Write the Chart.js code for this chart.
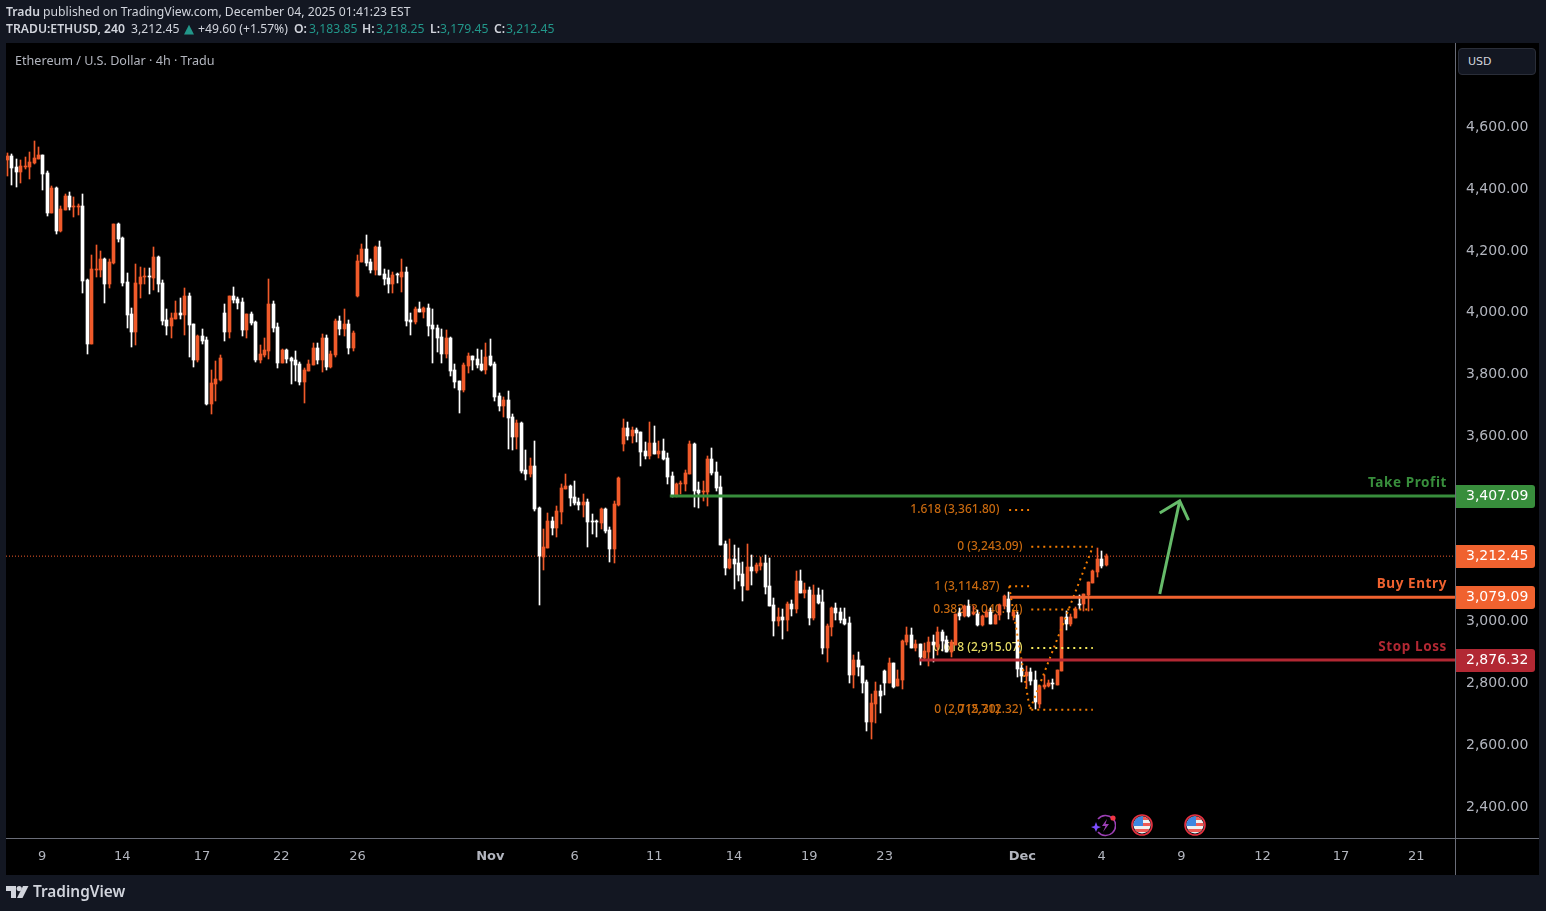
<!DOCTYPE html>
<html>
<head>
<meta charset="utf-8">
<title>ETHUSD 4h</title>
<script src="https://cdn.jsdelivr.net/npm/chart.js@4/dist/chart.umd.min.js"></script>
<style>
  html, body { margin: 0; padding: 0; width: 1546px; height: 911px; overflow: hidden; background: #131722; }
  #wrap { position: relative; width: 1546px; height: 911px; }
  canvas { position: absolute; left: 0; top: 0; }
  .txt { position: absolute; white-space: nowrap; font-family: "Noto Sans", sans-serif; font-size: 12.2px; color: #d1d4dc; line-height: 16px; }
  .txt b { font-weight: 600; }
  .teal { color: #22978a; }
  .tri { font-family: "DejaVu Sans", sans-serif; font-size: 13px; }
  #usd { position: absolute; left: 1458px; top: 48px; width: 76px; height: 25px; border: 1px solid #2a2e39; border-radius: 4px; background: #131722; }
  #usd span { position: absolute; left: 9px; top: 6px; font: 11px "DejaVu Sans", sans-serif; color: #d1d4dc; }
  svg { position: absolute; }
</style>
</head>
<body>
<div id="wrap">
  <canvas id="chart" width="1546" height="911"></canvas>
  <div class="txt" style="left:6px;top:4px"><b>Tradu</b> published on TradingView.com, December 04, 2025 01:41:23 EST</div>
  <div class="txt" style="left:6px;top:21px"><b>TRADU:ETHUSD, 240</b></div>
  <div class="txt" style="left:131px;top:21px">3,212.45</div>
  <div class="txt teal tri" style="left:184px;top:21px">▲</div>
  <div class="txt" style="left:198px;top:21px">+49.60 (+1.57%)</div>
  <div class="txt" style="left:294px;top:21px"><b>O:</b></div>
  <div class="txt teal" style="left:309px;top:21px">3,183.85</div>
  <div class="txt" style="left:362px;top:21px"><b>H:</b></div>
  <div class="txt teal" style="left:376px;top:21px">3,218.25</div>
  <div class="txt" style="left:430px;top:21px"><b>L:</b></div>
  <div class="txt teal" style="left:440px;top:21px">3,179.45</div>
  <div class="txt" style="left:494px;top:21px"><b>C:</b></div>
  <div class="txt teal" style="left:506px;top:21px">3,212.45</div>
  <div class="txt" style="left:15px;top:53px;font-size:12.6px;color:#b2b5be">Ethereum / U.S. Dollar · 4h · Tradu</div>
  <div id="usd"><span>USD</span></div>

  <!-- earnings and economic event markers -->
  <svg style="left:1090px;top:813px" width="26" height="24" viewBox="0 0 26 24">
    <path d="M8 6 A10 10 0 1 1 8 19" fill="none" stroke="#9c3fb5" stroke-width="1.6"/>
    <path d="M17 6 L12 13 H15.5 L13 19 L19 11 H15.5 Z" fill="#9c3fb5"/>
    <path d="M6 9 L7.5 13 L11 14 L7.5 15.5 L6 19 L4.5 15.5 L1 14 L4.5 13 Z" fill="#7c4dff"/>
    <circle cx="23" cy="5" r="2.6" fill="#f23645"/>
  </svg>
  <svg style="left:1130px;top:813px" width="24" height="24" viewBox="0 0 24 24">
    <defs><clipPath id="c1"><circle cx="12" cy="12" r="8.5"/></clipPath></defs>
    <circle cx="12" cy="12" r="10" fill="#131722" stroke="#e5303f" stroke-width="1.6"/>
    <g clip-path="url(#c1)"><rect x="3" y="3" width="18" height="18" fill="#f0f0f0"/><rect x="3" y="4" width="18" height="3" fill="#ee5a55"/><rect x="3" y="10" width="18" height="3" fill="#ee5a55"/><rect x="3" y="16" width="18" height="3" fill="#ee5a55"/><rect x="3" y="3" width="10" height="10" fill="#3d86e0"/></g>
  </svg>
  <svg style="left:1183px;top:813px" width="24" height="24" viewBox="0 0 24 24">
    <defs><clipPath id="c2"><circle cx="12" cy="12" r="8.5"/></clipPath></defs>
    <circle cx="12" cy="12" r="10" fill="#131722" stroke="#e5303f" stroke-width="1.6"/>
    <g clip-path="url(#c2)"><rect x="3" y="3" width="18" height="18" fill="#f0f0f0"/><rect x="3" y="4" width="18" height="3" fill="#ee5a55"/><rect x="3" y="10" width="18" height="3" fill="#ee5a55"/><rect x="3" y="16" width="18" height="3" fill="#ee5a55"/><rect x="3" y="3" width="10" height="10" fill="#3d86e0"/></g>
  </svg>

  <!-- footer logo -->
  <svg style="left:6px;top:885px" width="24" height="14" viewBox="0 0 24 14">
    <path d="M0 1 H10 V13 H5 V6 H0 Z" fill="#d1d4dc"/>
    <circle cx="13.2" cy="3.6" r="2.6" fill="#d1d4dc"/>
    <path d="M17 1 H22.5 L16.5 13 H11 Z" fill="#d1d4dc"/>
  </svg>
  <div class="txt" style="left:33px;top:882px;font-size:15.4px;line-height:20px;font-weight:600;color:#d1d4dc">TradingView</div>
</div>

<script>
// OHLC, one value per 4h candle
const opens = [4495,4508,4472,4456,4472,4472,4485,4498,4511,4453,
  4323,4404,4265,4333,4378,4343,4343,4346,4107,3899,
  4139,4139,4174,4094,4160,4288,4242,4100,3996,3938,
  4094,4116,4119,4113,4181,4097,3977,3958,3980,4000,
  3993,4055,3964,3848,3925,3912,3705,3770,3783,4000,
  3938,4055,4045,4035,3945,3996,3971,3848,3864,3877,
  4029,3954,3838,3880,3854,3848,3835,3776,3812,3831,
  3887,3848,3919,3825,3864,3974,3948,3964,3887,4055,
  4165,4207,4165,4139,4213,4126,4113,4093,4123,4116,
  4132,3977,3970,4012,4003,4016,3961,3951,3922,3867,
  3918,3815,3779,3750,3828,3860,3851,3834,3815,3860,
  3834,3731,3698,3718,3663,3598,3643,3491,3478,3504,
  3368,3210,3239,3326,3304,3355,3430,3440,3404,3388,
  3378,3388,3326,3324,3320,3365,3297,3236,3378,3575,
  3627,3601,3621,3614,3553,3537,3579,3543,3553,3530,
  3472,3407,3446,3446,3478,3575,3427,3420,3420,3527,
  3485,3436,3252,3174,3203,3190,3155,3103,3177,3164,
  3180,3190,3116,3054,3002,3015,3006,3057,3041,3132,
  3093,3103,3012,3087,3064,2915,2983,3045,3032,3009,
  2996,2828,2876,2857,2805,2676,2734,2776,2841,2802,
  2867,2792,2812,2935,2957,2915,2928,2883,2902,2935,
  2918,2967,2941,2902,2925,3028,3019,3051,3025,3025,
  2990,3015,3032,2993,3022,3051,3074,3019,3022,2851,
  2825,2838,2812,2734,2789,2792,2802,2795,2841,3015,
  2993,3012,3058,3058,3087,3125,3161,3203,3183.85];
const highs = [4518,4514,4498,4495,4504,4520,4556,4537,4511,4459,
  4411,4407,4346,4385,4391,4375,4352,4385,4110,4187,
  4220,4200,4178,4174,4288,4291,4246,4129,4016,4158,
  4149,4145,4145,4213,4184,4107,4013,4000,4039,4048,
  4081,4064,3964,3929,3948,3922,3815,3844,3864,4029,
  4055,4084,4051,4048,3996,4003,3974,3896,3919,4110,
  4039,3967,3883,3883,3857,3877,3841,3822,3848,3903,
  3903,3932,3929,3877,3980,3990,4013,3977,3941,4187,
  4223,4252,4174,4217,4232,4142,4139,4132,4129,4174,
  4148,4000,4019,4035,4019,4028,4012,3961,3948,3944,
  3922,3834,3779,3838,3870,3860,3883,3880,3902,3915,
  3841,3740,3728,3747,3673,3653,3647,3556,3530,3585,
  3372,3300,3352,3339,3375,3446,3478,3443,3456,3401,
  3414,3397,3349,3330,3368,3368,3307,3391,3469,3656,
  3647,3630,3627,3614,3582,3647,3634,3585,3592,3546,
  3485,3449,3456,3491,3585,3579,3453,3456,3537,3562,
  3517,3472,3262,3268,3249,3239,3193,3252,3216,3190,
  3210,3216,3206,3077,3045,3041,3064,3070,3164,3168,
  3125,3113,3119,3109,3103,2993,3048,3061,3045,3045,
  3015,2892,2902,2857,2812,2766,2805,2795,2844,2883,
  2867,2844,2941,2983,2980,2941,2928,2931,2951,2957,
  2983,2973,2954,2941,3025,3045,3054,3070,3051,3038,
  3022,3038,3045,3025,3057,3087,3096,3038,3032,2873,
  2857,2851,2841,2796,2828,2812,2815,2844,3015,3035,
  3025,3048,3087,3090,3129,3168,3239,3229,3218.25];
const lows = [4443,4414,4407,4420,4465,4433,4482,4498,4398,4313,
  4323,4255,4262,4333,4333,4310,4317,4064,3867,3899,
  4116,4116,4032,4081,4158,4229,4087,3951,3890,3896,
  4048,4094,4061,4074,4068,3961,3929,3919,3980,3980,
  3929,3857,3825,3841,3899,3702,3673,3715,3780,3909,
  3919,4032,4013,3925,3919,3961,3841,3838,3857,3851,
  3938,3822,3838,3838,3770,3780,3767,3708,3812,3831,
  3835,3809,3815,3822,3857,3929,3925,3867,3877,4051,
  4165,4152,4129,4123,4122,4090,4064,4064,4096,4067,
  3957,3928,3964,4003,3983,3925,3838,3873,3838,3854,
  3795,3757,3676,3744,3805,3815,3821,3812,3802,3828,
  3715,3682,3663,3559,3556,3559,3482,3459,3469,3359,
  3054,3168,3239,3281,3274,3317,3430,3375,3378,3362,
  3339,3242,3284,3275,3300,3287,3194,3190,3375,3553,
  3588,3579,3582,3504,3527,3527,3543,3530,3524,3446,
  3404,3404,3414,3423,3478,3372,3368,3391,3375,3475,
  3423,3249,3152,3171,3106,3132,3067,3103,3119,3158,
  3168,3090,3051,2954,2986,2944,2970,3019,3028,3093,
  3077,2990,3006,3057,2896,2870,2954,3006,2996,2990,
  2802,2786,2825,2769,2647,2621,2672,2705,2763,2802,
  2786,2792,2782,2925,2915,2905,2860,2876,2857,2870,
  2892,2905,2902,2886,2925,3006,3015,3015,3022,2986,
  2986,3015,2993,2993,3006,3041,3009,3006,2821,2805,
  2789,2795,2718,2721,2783,2789,2783,2795,2841,2974,
  2986,3012,3041,3035,3035,3125,3145,3174,3179.45];
const closes = [4508,4469,4456,4475,4475,4488,4501,4511,4449,4323,
  4404,4265,4336,4378,4343,4346,4346,4103,3899,4142,
  4142,4174,4094,4165,4288,4239,4097,3993,3938,4097,
  4116,4119,4116,4181,4094,3974,3958,3984,4000,3993,
  4055,3961,3848,3925,3909,3705,3773,3786,3854,3938,
  4055,4042,4032,3945,3996,3967,3848,3867,3880,4029,
  3951,3838,3880,3851,3844,3831,3776,3815,3835,3887,
  3848,3919,3825,3867,3974,3948,3964,3887,3935,4168,
  4207,4161,4139,4213,4122,4109,4093,4122,4122,4132,
  3973,3970,4012,4003,4016,3957,3948,3918,3867,3918,
  3812,3776,3750,3831,3860,3847,3831,3815,3857,3831,
  3728,3698,3718,3660,3598,3643,3488,3478,3504,3365,
  3212,3242,3326,3304,3359,3433,3440,3401,3385,3378,
  3388,3323,3323,3322,3365,3294,3236,3381,3465,3627,
  3601,3621,3611,3550,3537,3579,3543,3553,3527,3469,
  3410,3446,3449,3482,3575,3423,3417,3423,3527,3482,
  3433,3249,3174,3203,3187,3151,3116,3177,3164,3184,
  3190,3113,3051,3002,3015,3006,3057,3041,3132,3093,
  3103,3012,3087,3061,2915,2986,3045,3028,3006,2993,
  2828,2876,2854,2802,2676,2737,2776,2760,2802,2867,
  2789,2815,2938,2957,2915,2928,2886,2905,2935,2925,
  2967,2938,2902,2935,3025,3019,3051,3019,3028,2990,
  3019,3032,2993,3022,3054,3083,3032,3032,2847,2825,
  2838,2808,2741,2792,2795,2802,2799,2844,3015,2993,
  3015,3041,3054,3090,3129,3164,3203,3181,3212.45];

// axis ticks
const yTickValues = [2400, 2600, 2800, 3000, 3600, 3800, 4000, 4200, 4400, 4600];
const xTickLabels = ['9','14','17','22','26','Nov','6','11','14','19','23','Dec','4','9','12','17','21'];
const xTickCandles = [8.8,26.9,44.9,62.8,80,110,129,147,165,182,199,230.1,248,266,284.3,302,319];

// trade levels
const takeProfit = 3407.09;
const buyEntry = 3079.09;
const stopLoss = 2876.32;
const lastPrice = 3212.45;
const takeProfitStart = 150.5;
const buyEntryStart = 227.3;
const stopLossStart = 206.8;

// arrow drawn on the chart
const arrowCandles = [261.1, 265.6];
const arrowPrices = [3090, 3391];
const arrowHeadCandles = [261.1, 265.6, 267.6];
const arrowHeadPrices = [3352, 3391, 3329];

// fib levels
const fibLevels = [3361.80, 3243.09, 3114.87, 3040.14, 2915.07, 2715.30];
const fibStarts = [227.1, 232.1, 227.1, 232.1, 232.1, 232.1];
const fibEnds = [231.6, 246, 231.6, 246, 246, 246];
const fibColors = ['#f57c00', '#f57c00', '#f57c00', '#f57c00', '#f5e95b', '#f57c00'];
const fibTexts = ['1.618 (3,361.80)', '0 (3,243.09)', '1 (3,114.87)', '0.382 (3,040.14)', '0.618 (2,915.07)', '0 (2,715.30)', '0 (2,712.32)'];
const fibTextPrices = [3361.80, 3243.09, 3114.87, 3040.14, 2915.07, 2715.30, 2715.30];
const fibTextCandles = [224.9, 230.1, 224.9, 230.1, 230.1, 224.9, 230.1];
const swingCandles = [227.1, 231.8, 246];
const swingPrices = [3114.87, 2715.30, 3243.09];

const UP = '#f05a2a';
const DOWN = '#ffffff';
const xMin = 0.66, xMax = 327.75;
const candles = opens.map((_, i) => i + 1);

const candleColors = opens.map((o, i) => closes[i] >= o ? UP : DOWN);
const wickData = candles.map((c, i) => ({ x: c, y: [lows[i], highs[i]] }));
const bodyData = candles.map((c, i) => ({ x: c, y: [opens[i], closes[i]] }));

function lineSet(xs, ys, color, width, dash, order) {
  return {
    type: 'line',
    data: xs.map((x, i) => ({ x, y: ys[i] })),
    borderColor: color,
    borderWidth: width,
    borderDash: dash || [],
    pointRadius: 0,
    tension: 0,
    fill: false,
    order: order
  };
}

const datasets = [
  { type: 'bar', data: wickData, backgroundColor: candleColors, barThickness: 1, grouped: false, minBarLength: 1, order: 4 },
  { type: 'bar', data: bodyData, backgroundColor: candleColors, barThickness: 3, grouped: false, minBarLength: 1, order: 3 },
  lineSet([xMin, xMax], [lastPrice, lastPrice], UP, 1, [1, 2], 5),
  lineSet([takeProfitStart, xMax], [takeProfit, takeProfit], '#388e3c', 3, null, 1),
  lineSet([buyEntryStart, xMax], [buyEntry, buyEntry], '#f0622f', 3, null, 1),
  lineSet([stopLossStart, xMax], [stopLoss, stopLoss], '#b22833', 3, null, 1),
  lineSet(arrowCandles, arrowPrices, '#66bb6a', 3, null, 1),
  lineSet(arrowHeadCandles, arrowHeadPrices, '#66bb6a', 3, null, 1),
  lineSet(swingCandles, swingPrices, '#f57c00', 2, [2, 4], 1)
];
fibLevels.forEach((p, i) => {
  datasets.push(lineSet([fibStarts[i], fibEnds[i]], [p, p], fibColors[i], 2, [2, 4], 1));
});

// snap bars to whole pixels, otherwise the 3px candles get blurry
const snapBars = {
  id: 'snapBars',
  afterDatasetsUpdate(chart) {
    [0, 1].forEach(k => {
      chart.getDatasetMeta(k).data.forEach(el => {
        el.x = Math.floor(el.x) + 0.5;
        el.y = Math.round(el.y);
        el.base = Math.round(el.base);
      });
    });
  }
};

const panels = {
  id: 'panels',
  beforeDraw(chart) {
    const c = chart.ctx;
    c.fillStyle = '#131722';
    c.fillRect(0, 0, 1546, 911);
    c.fillStyle = '#000000';
    c.fillRect(6, 43, 1533, 832);
  },
  beforeDatasetsDraw(chart) {
    // fib labels sit under the candles
    const c = chart.ctx, xs = chart.scales.x, ys = chart.scales.y;
    c.save();
    c.font = '500 12px "Noto Sans", sans-serif';
    c.textAlign = 'right';
    c.textBaseline = 'middle';
    fibTexts.forEach((t, i) => {
      c.fillStyle = t.startsWith('0.618') ? '#e6dc64' : '#c8690f';
      c.fillText(t, xs.getPixelForValue(fibTextCandles[i]), ys.getPixelForValue(fibTextPrices[i]));
    });
    c.restore();
  },
  afterDraw(chart) {
    const c = chart.ctx, ys = chart.scales.y, area = chart.chartArea;
    c.save();
    c.fillStyle = '#6a6d78';
    c.fillRect(area.right, 43, 1, 832);
    c.fillRect(6, area.bottom, 1533, 1);

    // price flags on the right axis
    const flags = [[takeProfit, '#388e3c'], [lastPrice, '#f0622f'], [buyEntry, '#f0622f'], [stopLoss, '#b22833']];
    c.textAlign = 'left';
    c.textBaseline = 'middle';
    flags.forEach(f => {
      const y = Math.round(ys.getPixelForValue(f[0]));
      c.fillStyle = f[1];
      c.beginPath();
      c.roundRect(area.right + 1, y - 11, 79, 23, [0, 3, 3, 0]);
      c.fill();
      c.fillStyle = '#ffffff';
      c.font = '14px "DejaVu Sans", sans-serif';
      c.fillText(f[0].toLocaleString('en-US', { minimumFractionDigits: 2 }), area.right + 11, y);
    });

    // names of the levels
    const names = [['Take Profit', takeProfit, '#388e3c'], ['Buy Entry', buyEntry, '#f0622f'], ['Stop Loss', stopLoss, '#b22833']];
    c.textAlign = 'right';
    c.font = 'bold 13.5px "Noto Sans", sans-serif';
    c.letterSpacing = '0.6px';
    names.forEach(n => {
      c.fillStyle = n[2];
      c.fillText(n[0], area.right - 8, ys.getPixelForValue(n[1]) - 13);
    });
    c.restore();
  }
};

new Chart(document.getElementById('chart').getContext('2d'), {
  type: 'bar',
  data: { datasets },
  plugins: [snapBars, panels],
  options: {
    responsive: false,
    animation: false,
    events: [],
    layout: { padding: { left: 6, top: 43, right: 0, bottom: 0 } },
    plugins: { legend: { display: false }, tooltip: { enabled: false } },
    scales: {
      x: {
        type: 'linear',
        min: xMin,
        max: xMax,
        offset: false,
        grid: { display: false, drawTicks: false },
        border: { display: false },
        afterFit(axis) { axis.height = 73; },
        afterBuildTicks(axis) { axis.ticks = xTickCandles.map(v => ({ value: v })); },
        ticks: {
          autoSkip: false,
          maxRotation: 0,
          padding: 11,
          color: '#b2b5be',
          font: ctx => ({ family: '"DejaVu Sans", sans-serif', size: 13, weight: (ctx.index === 5 || ctx.index === 11) ? 'bold' : 'normal' }),
          callback: (v, i) => xTickLabels[i]
        }
      },
      y: {
        position: 'right',
        min: 2300.3,
        max: 4873.1,
        grid: { display: false, drawTicks: false },
        border: { display: false },
        afterFit(axis) { axis.width = 91; },
        afterBuildTicks(axis) { axis.ticks = yTickValues.map(v => ({ value: v })); },
        ticks: {
          autoSkip: false,
          padding: 11,
          labelOffset: 0,
          color: '#b2b5be',
          font: { family: '"DejaVu Sans", sans-serif', size: 14 },
          callback: v => v.toLocaleString('en-US', { minimumFractionDigits: 2 })
        }
      }
    }
  }
});
</script>
</body>
</html>
